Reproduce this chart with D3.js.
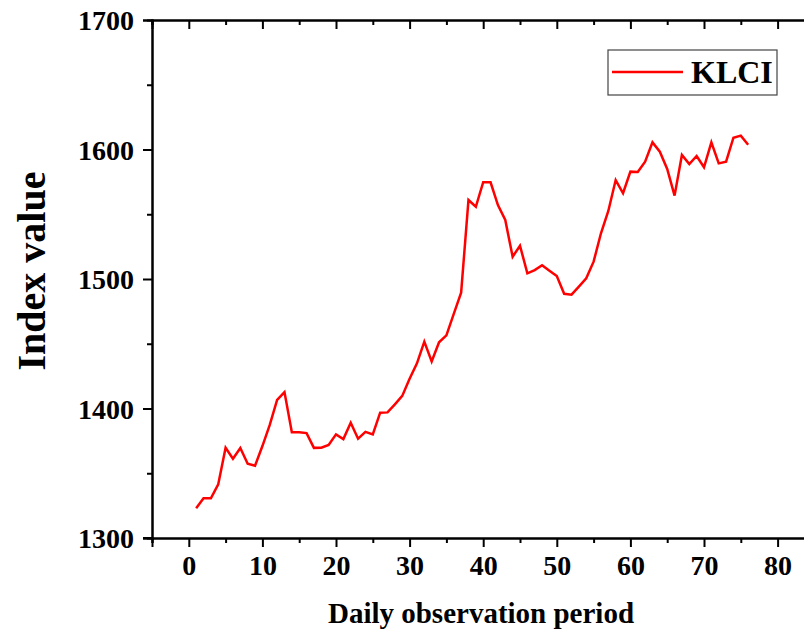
<!DOCTYPE html>
<html>
<head>
<meta charset="utf-8">
<script src="https://cdn.jsdelivr.net/npm/d3@7"></script>
<style>
  body { margin: 0; background: #fff; }
  svg { display: block; }
  text { font-family: "Liberation Serif", "Times New Roman", serif; font-weight: bold; fill: #000; }
</style>
</head>
<body>
<div id="chart"></div>
<script>
// KLCI daily index values (day 1..76)
var days = d3.range(1, 77);
var klci = [1323, 1330.6, 1330.6, 1341.5, 1369.7, 1361.2, 1369.5, 1357.4, 1355.8, 1371,
            1387.3, 1406.6, 1412.7, 1381.6, 1381.6, 1381, 1369.6, 1369.7, 1371.8, 1380,
            1376.4, 1389, 1376.7, 1381.9, 1380, 1396.8, 1397, 1403.2, 1409.7, 1423,
            1434.9, 1451.6, 1436.4, 1451.1, 1456.5, 1473, 1489.4, 1561, 1555.8, 1574.7,
            1574.7, 1557.1, 1545.6, 1517.2, 1525.7, 1504.4, 1506.9, 1510.6, 1506.4, 1502.3,
            1488.6, 1487.9, 1494.1, 1500.5, 1513.4, 1535.3, 1552.5, 1576.4, 1566.2, 1582.9,
            1582.6, 1590.6, 1605.5, 1598.3, 1585, 1564.4, 1595.8, 1588.8, 1595, 1586.3,
            1605.5, 1589.3, 1590.6, 1609.1, 1610.7, 1603.7];
var xMajor = d3.range(0, 81, 10);
var xMinor = d3.range(-5, 86, 5).filter(function(v){ return v % 10 !== 0; });
var yMajor = [1300, 1400, 1500, 1600, 1700];
var yMinor = [1350, 1450, 1550, 1650];

var W = 804, H = 635;
var svg = d3.select("#chart").append("svg").attr("width", W).attr("height", H);

var x = d3.scaleLinear().domain([-5, 85]).range([152, 814.4]);
var y = d3.scaleLinear().domain([1300, 1700]).range([538, 20]);

var axisW = 2;

// bottom axis
var gB = svg.append("g").attr("transform", "translate(0," + y(1300) + ")");
gB.call(d3.axisBottom(x).tickValues(xMajor).tickSize(9).tickPadding(8).tickFormat(d3.format("d")));
gB.append("g").call(d3.axisBottom(x).tickValues(xMinor).tickSize(5).tickFormat(""));

// top axis (inner ticks, no labels)
var gT = svg.append("g").attr("transform", "translate(0," + y(1700) + ")");
gT.call(d3.axisTop(x).tickValues(xMajor).tickSize(-9).tickFormat(""));
gT.append("g").call(d3.axisTop(x).tickValues(xMinor).tickSize(-5).tickFormat(""));

// left axis
var gL = svg.append("g").attr("transform", "translate(" + x(-5) + ",0)");
gL.call(d3.axisLeft(y).tickValues(yMajor).tickSize(9).tickPadding(9).tickFormat(d3.format("d")));
gL.append("g").call(d3.axisLeft(y).tickValues(yMinor).tickSize(5).tickFormat(""));

svg.selectAll(".domain").attr("stroke", "#000").attr("stroke-width", axisW);
svg.selectAll(".tick line").attr("stroke", "#000").attr("stroke-width", axisW);
svg.selectAll(".tick text").style("font-size", "28px")
   .style("font-family", "'Liberation Serif', serif").style("font-weight", "bold");
gL.selectAll(".tick text").attr("dy", "0.35em");

// extend bottom line to the left over the tick
svg.append("line").attr("x1", x(-5) - 9).attr("x2", x(-5)).attr("y1", y(1300)).attr("y2", y(1300))
   .attr("stroke", "#000").attr("stroke-width", axisW);

// series line
var line = d3.line()
  .x(function(d, i){ return x(days[i]); })
  .y(function(d){ return y(d); });
svg.append("path").datum(klci)
  .attr("d", line)
  .attr("fill", "none")
  .attr("stroke", "#ff0000")
  .attr("stroke-width", 2.5)
  .attr("stroke-linejoin", "miter");

// axis titles
svg.append("text")
  .attr("x", 481).attr("y", 623)
  .attr("text-anchor", "middle")
  .style("font-size", "29px")
  .text("Daily observation period");

svg.append("text")
  .attr("transform", "translate(45," + 271 + ") rotate(-90)")
  .attr("text-anchor", "middle")
  .style("font-size", "40px")
  .text("Index value");

// legend
var lg = svg.append("g");
lg.append("rect").attr("x", 608).attr("y", 50).attr("width", 169).attr("height", 45)
  .attr("fill", "#fff").attr("stroke", "#444").attr("stroke-width", 1.2);
lg.append("line").attr("x1", 612).attr("x2", 683).attr("y1", 72).attr("y2", 72)
  .attr("stroke", "#ff0000").attr("stroke-width", 2.5);
lg.append("text").attr("x", 691).attr("y", 83).style("font-size", "32px").text("KLCI");
</script>
</body>
</html>
